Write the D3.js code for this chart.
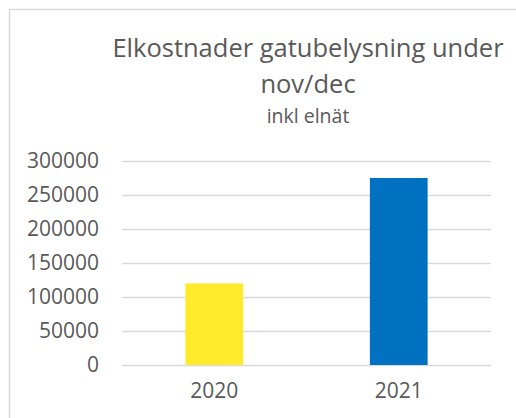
<!DOCTYPE html>
<html>
<head>
<meta charset="utf-8">
<script src="https://cdn.jsdelivr.net/npm/d3@7"></script>
<style>
  body { margin: 0; background: #fff; }
  text { font-family: "Open Sans", sans-serif; fill: #595959; }
</style>
</head>
<body>
<div id="chart"></div>
<script>
// Chart data
const years = ["2020", "2021"];
const costs = [120000, 275000];
const barColors = ["#FFEB2A", "#0070C0"];
const yTicks = [0, 50000, 100000, 150000, 200000, 250000, 300000];
const titleLines = ["Elkostnader gatubelysning under", "nov/dec"];
const subtitle = "inkl elnät";

const W = 516, H = 418;
const margin = {top: 161, right: 25, bottom: 53, left: 122};
const width = W - margin.left - margin.right,
      height = H - margin.top - margin.bottom;

const svg = d3.select("#chart")
  .append("svg")
    .attr("width", W)
    .attr("height", H);

// chart frame (continues beyond the picture on the right and bottom)
svg.append("rect")
  .attr("x", 9.5)
  .attr("y", 9.5)
  .attr("width", W + 20)
  .attr("height", H + 20)
  .attr("fill", "none")
  .attr("stroke", "#d9d9d9")
  .attr("stroke-width", 1.5);

const g = svg.append("g")
  .attr("transform", `translate(${margin.left},${margin.top})`);

const x = d3.scaleBand()
  .domain(years)
  .range([0, width])
  .paddingInner(0.687)
  .paddingOuter(0.687 / 2);

const y = d3.scaleLinear()
  .domain([0, 300000])
  .range([height, 0]);

// gridlines
g.append("g")
  .selectAll("line")
  .data(yTicks)
  .enter().append("line")
    .attr("x1", 0)
    .attr("x2", width)
    .attr("y1", d => Math.round(y(d)) + 0.5)
    .attr("y2", d => Math.round(y(d)) + 0.5)
    .attr("stroke", "#d9d9d9")
    .attr("stroke-width", 1.5);

// y axis labels
const yAxis = g.append("g")
  .call(d3.axisLeft(y).tickValues(yTicks).tickSize(0).tickPadding(23).tickFormat(d3.format("d")));
yAxis.select(".domain").remove();
yAxis.selectAll("text")
  .style("font-size", "21px")
  .attr("fill", "#595959");

// bars
g.selectAll(".bar")
  .data(years)
  .enter().append("rect")
    .attr("class", "bar")
    .attr("x", d => x(d))
    .attr("width", x.bandwidth())
    .attr("y", (d, i) => y(costs[i]))
    .attr("height", (d, i) => y(0) - y(costs[i]))
    .attr("fill", (d, i) => barColors[i]);

// x axis labels
const xAxis = g.append("g")
  .attr("transform", `translate(0,${height})`)
  .call(d3.axisBottom(x).tickSize(0).tickPadding(18));
xAxis.select(".domain").remove();
xAxis.selectAll("text")
  .style("font-size", "21px")
  .attr("fill", "#595959");

// title
const titleX = 308;
svg.selectAll(".title")
  .data(titleLines)
  .enter().append("text")
    .attr("class", "title")
    .attr("x", titleX)
    .attr("y", (d, i) => 57 + i * 36)
    .attr("text-anchor", "middle")
    .style("font-size", "25.5px")
    .text(d => d);

svg.append("text")
  .attr("x", titleX)
  .attr("y", 123)
  .attr("text-anchor", "middle")
  .style("font-size", "19.5px")
  .text(subtitle);
</script>
</body>
</html>
